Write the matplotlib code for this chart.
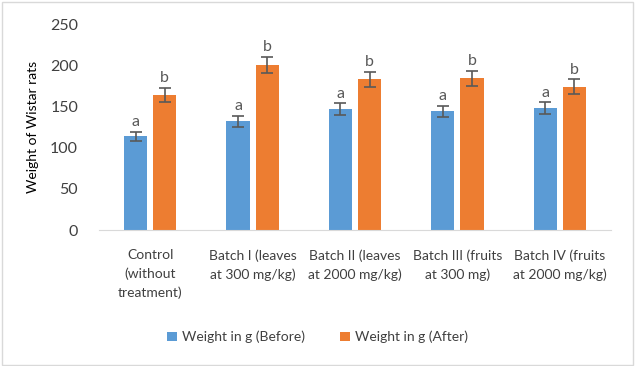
import numpy as np
import matplotlib
matplotlib.use("Agg")
import matplotlib.pyplot as plt

plt.rcParams["font.family"] = ["Lato", "DejaVu Sans"]

# data
categories = ["Control\n(without\ntreatment)", "Batch I (leaves\nat 300 mg/kg)",
              "Batch II (leaves\nat 2000 mg/kg)", "Batch III (fruits\nat 300 mg)",
              "Batch IV (fruits\nat 2000 mg/kg)"]
before = [114, 132, 147, 144, 148]
before_err = [5.5, 6.5, 7, 7, 7]
after = [164, 200, 183, 184, 174]
after_err = [8.5, 10, 9, 9, 9]
before_letters = ["a", "a", "a", "a", "a"]
after_letters = ["b", "b", "b", "b", "b"]

blue, orange, grey = "#5B9BD5", "#ED7D31", "#595959"

fig = plt.figure(figsize=(6.35, 3.66), dpi=100)
ax = fig.add_axes([99 / 635, 1 - 230 / 366, 512 / 635, 206 / 366])

x = np.arange(len(categories))
w = 0.225
off = w / 2 + 0.03
ekw = dict(ecolor=grey, elinewidth=1.2, capsize=4, capthick=1.2)
ax.bar(x - off, before, w, color=blue, yerr=before_err, error_kw=ekw,
       label="Weight in g (Before)")
ax.bar(x + off, after, w, color=orange, yerr=after_err, error_kw=ekw,
       label="Weight in g (After)")

for xi, v, e, t in zip(x - off, before, before_err, before_letters):
    ax.text(xi, v + e + 3, t, ha="center", va="bottom", color=grey, fontsize=11.5)
for xi, v, e, t in zip(x + off, after, after_err, after_letters):
    ax.text(xi, v + e + 3, t, ha="center", va="bottom", color=grey, fontsize=11.5)

ax.set_xlim(-0.5, len(categories) - 0.5)
ax.set_ylim(0, 250)
ax.set_yticks(range(0, 251, 50))
ax.set_xticks(x)
ax.set_xticklabels(categories, fontsize=10, color="#404040", linespacing=1.6)
ax.tick_params(axis="y", labelsize=11.5, colors="#404040", length=0, pad=15)
ax.tick_params(axis="x", length=0, pad=14)
for s in ["top", "right", "left"]:
    ax.spines[s].set_visible(False)
ax.spines["bottom"].set_color("#D9D9D9")
ax.set_ylabel("Weight of Wistar rats", fontsize=10, color="#000000")
ax.yaxis.set_label_coords(-0.117, 0.5)

fig.legend(loc="center", bbox_to_anchor=(0.5, 1 - 337 / 366), ncol=2, frameon=False,
           fontsize=10, handlelength=0.7, handleheight=0.7, columnspacing=2.5,
           handletextpad=0.4, labelcolor="#404040")

border = plt.Rectangle((0.003, 0.004), 0.994, 0.99, transform=fig.transFigure,
                       fill=False, edgecolor="#D9D9D9", linewidth=1)
fig.patches.append(border)

fig.savefig("out.png", dpi=100)
